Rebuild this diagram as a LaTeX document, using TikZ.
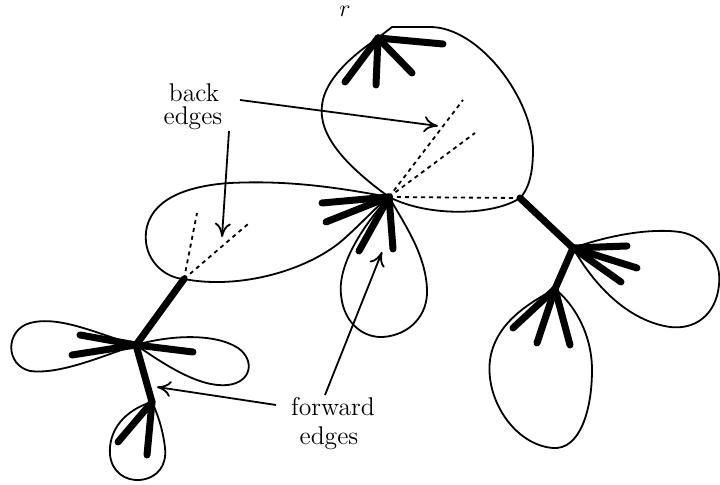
\documentclass[tikz,border=0pt]{standalone}
\usetikzlibrary{arrows.meta}
\begin{document}
\begin{tikzpicture}[x=0.5pt,y=-0.5pt,
  outline/.style={line width=0.9pt, line join=round},
  tree/.style={line width=3.5pt, line cap=round},
  backedge/.style={line width=0.9pt, dash pattern=on 2pt off 2pt},
  pointer/.style={line width=0.9pt, -{To[length=7pt,width=8pt]}},
  lbl/.style={font=\fontsize{12.8}{14}\selectfont, inner sep=0pt, anchor=base}]
\useasboundingbox (0,0) rectangle (720,485);
% vertices
\coordinate (r) at (378,38);
\coordinate (c) at (389,197);
\coordinate (l1) at (184,279);
\coordinate (l2) at (136,345);
\coordinate (l3) at (152,402);
\coordinate (r1) at (520,198);
\coordinate (r2) at (573,248);
\coordinate (r3) at (555,289);
% leaf ends
\coordinate (ra) at (443,44);
\coordinate (rb) at (412,73);
\coordinate (rc) at (376,85);
\coordinate (rd) at (345,82);
\coordinate (ca) at (322,203);
\coordinate (cb) at (326,222);
\coordinate (cc) at (359,251);
\coordinate (cd) at (393,249);
\coordinate (l2a) at (80,335);
\coordinate (l2b) at (72,355);
\coordinate (l2c) at (193,352);
\coordinate (l3a) at (118,442);
\coordinate (l3b) at (147,455);
\coordinate (r2a) at (627,246);
\coordinate (r2b) at (637,268);
\coordinate (r2c) at (621,282);
\coordinate (r3a) at (513,328);
\coordinate (r3b) at (537,343);
\coordinate (r3c) at (570,345);
% back edge ends
\coordinate (ba) at (463,100);
\coordinate (bb) at (475,133);
\coordinate (bc) at (197,213);
\coordinate (bd) at (248,224);

% outlines (blocks)
% top block
\draw[outline] (r) -- (392,27) -- (430,27)
  .. controls (480,27) and (533,100) .. (533,150)
  .. controls (533,175) and (528,190) .. (r1)
  .. controls (495,215) and (430,218) .. (c)
  .. controls (345,165) and (318,135) .. (322,105)
  .. controls (325,80) and (350,57) .. (r);
% middle-left block
\draw[outline] (c) .. controls (340,188) and (290,180) .. (230,183)
  .. controls (185,186) and (150,200) .. (146,232)
  .. controls (143,260) and (165,278) .. (l1)
  .. controls (240,290) and (310,270) .. (345,238)
  .. controls (365,220) and (378,205) .. (c);
% middle petal
\draw[outline] (c) .. controls (355,235) and (338,270) .. (341,295)
  .. controls (344,325) and (365,338) .. (383,337)
  .. controls (410,335) and (428,315) .. (427,290)
  .. controls (426,255) and (405,225) .. (c);
% l2 petals
\draw[outline] (l2) .. controls (100,335) and (60,315) .. (30,323)
  .. controls (5,330) and (5,365) .. (30,371)
  .. controls (60,375) and (105,355) .. (l2);
\draw[outline] (l2) .. controls (170,335) and (215,333) .. (238,348)
  .. controls (255,360) and (252,382) .. (228,385)
  .. controls (200,388) and (165,365) .. (l2);
% l3 petal
\draw[outline] (l3) .. controls (125,410) and (108,430) .. (110,455)
  .. controls (112,472) and (125,481) .. (140,480)
  .. controls (158,478) and (167,465) .. (165,448)
  .. controls (163,430) and (158,415) .. (l3);
% r2 petal
\draw[outline] (r2) .. controls (610,235) and (650,228) .. (680,232)
  .. controls (705,236) and (722,260) .. (719,285)
  .. controls (716,315) and (695,330) .. (670,327)
  .. controls (635,322) and (600,295) .. (r2);
% r3 petal
\draw[outline] (r3) .. controls (525,305) and (495,325) .. (490,360)
  .. controls (485,400) and (515,445) .. (553,448)
  .. controls (580,450) and (592,410) .. (592,370)
  .. controls (592,335) and (575,305) .. (r3);

% back edges
\draw[backedge] (c) -- (ba);
\draw[backedge] (c) -- (bb);
\draw[backedge] (c) -- (r1);
\draw[backedge] (l1) -- (bc);
\draw[backedge] (l1) -- (bd);

% tree edges
\foreach \e in {ra,rb,rc,rd} \draw[tree] (r) -- (\e);
\foreach \e in {ca,cb,cc,cd} \draw[tree] (c) -- (\e);
\foreach \e in {l2a,l2b,l2c} \draw[tree] (l2) -- (\e);
\foreach \e in {l3a,l3b} \draw[tree] (l3) -- (\e);
\foreach \e in {r2a,r2b,r2c} \draw[tree] (r2) -- (\e);
\foreach \e in {r3a,r3b,r3c} \draw[tree] (r3) -- (\e);
\draw[tree] (l1) -- (l2) -- (l3);
\draw[tree] (r1) -- (r2) -- (r3);

% labels
\node[lbl] (rlbl) at (345,17) {$r$};
\node[lbl] (back1) at (194,102) {back};
\node[lbl] (back2) at (193,125) {edges};
\node[lbl] (fwd1) at (333,416) {forward};
\node[lbl] (fwd2) at (329,445) {edges};

% pointers
\coordinate (p1s) at (240,100);
\coordinate (p1e) at (438,126);
\coordinate (p2s) at (229,131);
\coordinate (p2e) at (222,237);
\coordinate (p3s) at (276,405);
\coordinate (p3e) at (157,387);
\coordinate (p4s) at (325,395);
\coordinate (p4e) at (382,252);
\draw[pointer] (p1s) -- (p1e);
\draw[pointer] (p2s) -- (p2e);
\draw[pointer] (p3s) -- (p3e);
\draw[pointer] (p4s) -- (p4e);
\end{tikzpicture}
\end{document}
